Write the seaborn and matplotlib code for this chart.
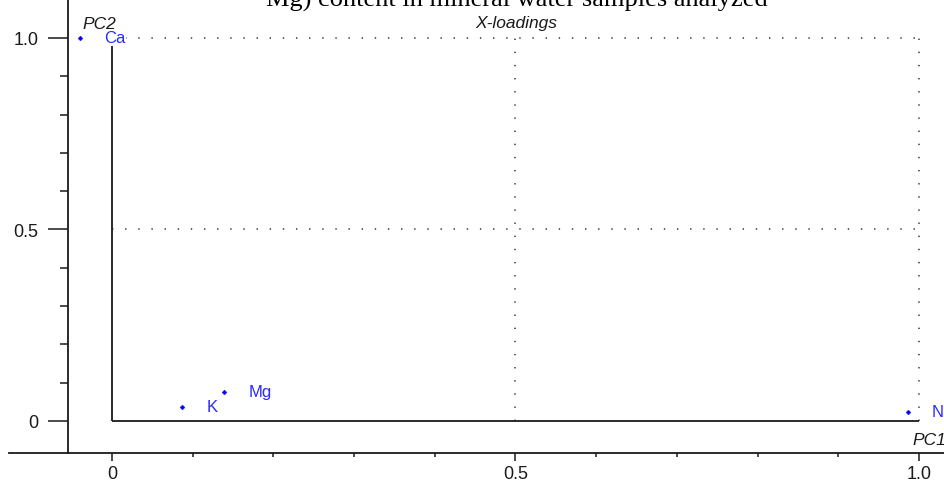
import numpy as np
import pandas as pd
import matplotlib
matplotlib.use("Agg")
import matplotlib.pyplot as plt
import seaborn as sns
from matplotlib.ticker import MultipleLocator, FixedLocator

# ---- data ----
variables = ["Ca", "K", "Mg", "Na"]
labels = ["Ca", "K", "Mg", "N"]
pc1 = [-0.040, 0.087, 0.139, 0.986]
pc2 = [1.000, 0.037, 0.076, 0.024]
x_ticks = [0, 0.5, 1.0]
x_tick_labels = ["0", "0.5", "1.0"]
y_ticks = [0, 0.5, 1.0]
y_tick_labels = ["0", "0.5", "1.0"]
title_text = "Mg) content in mineral water samples analyzed"

df = pd.DataFrame({"var": variables, "label": labels, "PC1": pc1, "PC2": pc2})

sns.set_style("ticks")
plt.rcParams["font.family"] = ["Liberation Sans", "DejaVu Sans"]

fig = plt.figure(figsize=(9.45, 4.81), dpi=100)
ax = fig.add_axes([9 / 945, 27 / 481, 936 / 945, 454 / 481])

ink = "#1a1a1a"
blue = "#0000ff"
lblue = "#2a2aff"

# reference lines (dotted grid within 0..1) and solid zero axes
ax.hlines([0.5, 1.0], 0, 1, colors="#333333", linewidth=1.1,
          linestyles=[(0, (0.9, 7.7))], zorder=1)
ax.vlines([0.5, 1.0], 0, 1, colors="#333333", linewidth=1.1,
          linestyles=[(0, (0.9, 7.7))], zorder=1)
ax.plot([0, 0], [0, 1], color=ink, linewidth=1.3, zorder=2, solid_capstyle="butt")
ax.plot([0, 1], [0, 0], color=ink, linewidth=1.3, zorder=2, solid_capstyle="butt")

sns.scatterplot(data=df, x="PC1", y="PC2", ax=ax, marker="D", s=6,
                color=blue, edgecolor=blue, linewidth=0.3, zorder=4, legend=False)

for _, r in df.iterrows():
    ax.annotate(r["label"], (r["PC1"], r["PC2"]), xytext=(17.3, 0),
                textcoords="offset points", ha="left", va="center",
                color=lblue, fontsize=12, zorder=5, annotation_clip=False,
                bbox=dict(boxstyle="square,pad=0.05", fc="white", ec="none"))

ax.set_xlim(-0.1276, 1.0322)
ax.set_ylim(-0.0836, 1.1018)

for s in ["top", "right"]:
    ax.spines[s].set_visible(False)
ax.spines["left"].set_position(("data", -0.0545))
for s in ["left", "bottom"]:
    ax.spines[s].set_color(ink)
    ax.spines[s].set_linewidth(1.3)

ax.xaxis.set_major_locator(FixedLocator(x_ticks))
ax.set_xticklabels(x_tick_labels)
ax.xaxis.set_minor_locator(FixedLocator([0.1, 0.2, 0.3, 0.4, 0.6, 0.7, 0.8, 0.9]))
ax.yaxis.set_major_locator(FixedLocator(y_ticks))
ax.set_yticklabels(y_tick_labels)
ax.yaxis.set_minor_locator(FixedLocator([0.1, 0.2, 0.3, 0.4, 0.6, 0.7, 0.8, 0.9]))

ax.tick_params(axis="y", which="major", direction="out", length=14.4, width=1.1,
               color=ink, pad=7, labelsize=13, labelcolor=ink)
ax.tick_params(axis="y", which="minor", direction="out", length=5.8, width=1.1, color=ink)
ax.tick_params(axis="x", which="major", direction="out", length=5.8, width=1.1,
               color=ink, pad=2.5, labelsize=13, labelcolor=ink)
ax.tick_params(axis="x", which="minor", direction="out", length=2.9, width=1.1, color=ink)

ax.set_xlabel("")
ax.set_ylabel("")

ax.text(-0.036, 1.0376, "PC2", ha="left", va="center", style="italic",
        fontsize=12.5, color=ink, clip_on=False)
ax.text(0.5015, 1.04, "X-loadings", ha="center", va="center", style="italic",
        fontsize=12.5, color=ink, clip_on=False)
ax.text(0.992, -0.0495, "PC1", ha="left", va="center", style="italic",
        fontsize=12.5, color=ink, clip_on=False)

fig.text(517 / 945, 1 - 6.5 / 481, title_text, ha="center", va="baseline",
         family="Liberation Serif", fontsize=19, color="black")

fig.savefig("out.png", dpi=100)
